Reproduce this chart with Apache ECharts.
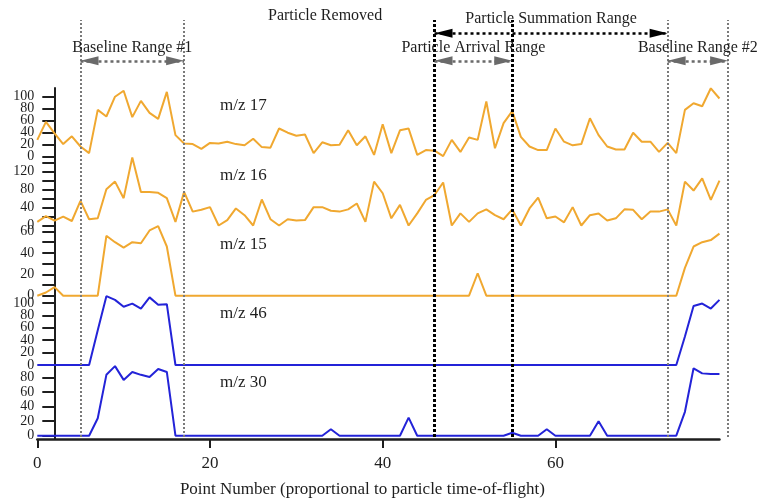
<!DOCTYPE html>
<html>
<head>
<meta charset="utf-8">
<script src="https://cdn.jsdelivr.net/npm/echarts@6/dist/echarts.min.js"></script>
<style>
  html, body { margin: 0; padding: 0; background: #ffffff; }
  #chart { width: 759px; height: 500px; }
</style>
</head>
<body>
<div id="chart"></div>
<script>
// ---- Ion signal traces, one value per point number (0 .. 79) ----
const mz17 = [28, 58, 39, 21, 34, 17, 6, 78, 67, 100,
              110, 66, 93, 73, 63, 108, 36, 22, 21, 13,
              23, 22, 25, 21, 19, 30, 16, 15, 47, 40,
              35, 37, 6, 24, 19, 20, 44, 19, 34, 3,
              54, 6, 44, 47, 3, 11, 10, 1, 28, 8,
              32, 28, 92, 14, 56, 76, 33, 17, 11, 11,
              47, 25, 19, 21, 64, 36, 17, 12, 12, 40,
              25, 25, 8, 23, 6, 78, 89, 84, 114, 97];

const mz16 = [8, 21, 11, 20, 10, 55, 14, 16, 81, 98,
              61, 152, 75, 75, 73, 61, 8, 75, 31, 35,
              41, 0, 12, 38, 23, 0, 58, 14, 0, 14,
              11, 12, 41, 41, 33, 31, 36, 49, 8, 98,
              72, 16, 46, 0, 27, 57, 68, 96, 0, 27,
              8, 27, 36, 23, 14, 36, 0, 38, 62, 16,
              20, 7, 41, 0, 23, 27, 11, 16, 36, 35,
              14, 31, 31, 36, 0, 98, 78, 105, 57, 100];

const mz15 = [0, 3, 8, 0, 0, 0, 0, 0, 56, 50,
              45, 50, 49, 61, 65, 46, 0, 0, 0, 0,
              0, 0, 0, 0, 0, 0, 0, 0, 0, 0,
              0, 0, 0, 0, 0, 0, 0, 0, 0, 0,
              0, 0, 0, 0, 0, 0, 0, 0, 0, 0,
              0, 21, 0, 0, 0, 0, 0, 0, 0, 0,
              0, 0, 0, 0, 0, 0, 0, 0, 0, 0,
              0, 0, 0, 0, 0, 26, 46, 50, 52, 58];

const mz46 = [0, 0, 0, 0, 0, 0, 0, 56, 111, 105,
              94, 99, 91, 109, 97, 98, 0, 0, 0, 0,
              0, 0, 0, 0, 0, 0, 0, 0, 0, 0,
              0, 0, 0, 0, 0, 0, 0, 0, 0, 0,
              0, 0, 0, 0, 0, 0, 0, 0, 0, 0,
              0, 0, 0, 0, 0, 0, 0, 0, 0, 0,
              0, 0, 0, 0, 0, 0, 0, 0, 0, 0,
              0, 0, 0, 0, 0, 46, 95, 99, 91, 105];

const mz30 = [0, 0, 0, 0, 0, 0, 0, 24, 84, 96,
              77, 88, 84, 81, 92, 88, 0, 0, 0, 0,
              0, 0, 0, 0, 0, 0, 0, 0, 0, 0,
              0, 0, 0, 0, 9, 0, 0, 0, 0, 0,
              0, 0, 0, 25, 0, 0, 0, 0, 0, 0,
              0, 0, 0, 0, 0, 4, 0, 0, 0, 9,
              0, 0, 0, 0, 0, 20, 0, 0, 0, 0,
              0, 0, 0, 0, 0, 33, 93, 86, 85, 85];

// ---- Tick values for each trace's intensity axis ----
const ticks17 = [0, 20, 40, 60, 80, 100];
const labels17 = [0, 20, 40, 60, 80, 100];
const ticks16 = [0, 20, 40, 60, 80, 100, 120, 140];
const labels16 = [0, 40, 80, 120];
const ticks15 = [0, 10, 20, 30, 40, 50, 60];
const labels15 = [0, 20, 40, 60];
const ticks46 = [0, 20, 40, 60, 80, 100];
const labels46 = [0, 20, 40, 60, 80, 100];
const ticks30 = [0, 20, 40, 60, 80];
const labels30 = [0, 20, 40, 60, 80];

// ---- Point-number axis ----
const xTicks = [0, 20, 40, 60];
const lastPoint = 79;

// ---- Ranges marked on the point-number axis ----
const baselineRange1 = [5, 17];
const arrivalRange = [46, 55];
const summationRange = [46, 73];
const baselineRange2 = [73, 80];

// ---- Styling / layout ----
const ORANGE = '#F0A830';
const BLUE = '#2323D8';
const INK = '#1e1e1e';
const GREY = '#7a7a7a';
const SERIF = "'Liberation Serif', 'Times New Roman', 'DejaVu Serif', serif";

const PLOT_LEFT = 37.3;
const PX_PER_POINT = 8.635;

// pixel band and visible value window of each stacked panel
const panels = [
  { name: 'm/z 17', data: mz17, color: ORANGE, top: 88,  bottom: 160, min: -5.5,  max: 114.5, ticks: ticks17, labels: labels17, labelY: 106.7 },
  { name: 'm/z 16', data: mz16, color: ORANGE, top: 160, bottom: 228, min: -5.6,  max: 146.2, ticks: ticks16, labels: labels16, labelY: 176.7 },
  { name: 'm/z 15', data: mz15, color: ORANGE, top: 228, bottom: 298, min: -2.15, max: 63.3,  ticks: ticks15, labels: labels15, labelY: 245.7 },
  { name: 'm/z 46', data: mz46, color: BLUE,   top: 298, bottom: 367, min: -3.2,  max: 108,   ticks: ticks46, labels: labels46, labelY: 315 },
  { name: 'm/z 30', data: mz30, color: BLUE,   top: 367, bottom: 439, min: -4.55, max: 94.8,  ticks: ticks30, labels: labels30, labelY: 384 }
];

const grids = [];
const xAxes = [];
const yAxes = [];
const series = [];
const texts = [];

const yLabelStyle = { margin: 20, color: INK, fontFamily: SERIF, fontSize: 14, showMinLabel: true, showMaxLabel: true, hideOverlap: false };

panels.forEach(function (p, i) {
  const isLast = i === panels.length - 1;
  grids.push({
    left: PLOT_LEFT,
    width: lastPoint * PX_PER_POINT,
    top: p.top,
    height: p.bottom - p.top
  });
  xAxes.push({
    gridIndex: i,
    type: 'value',
    min: 0,
    max: lastPoint,
    show: isLast,
    position: 'bottom',
    axisLine: { show: isLast, onZero: false, lineStyle: { color: INK, width: 2.5 } },
    axisTick: { show: isLast, customValues: xTicks, length: 9, lineStyle: { color: INK, width: 2 } },
    axisLabel: { show: isLast, customValues: xTicks, margin: 16, color: INK, fontFamily: SERIF, fontSize: 17 },
    splitLine: { show: false },
    name: isLast ? 'Point Number (proportional to particle time-of-flight)' : '',
    nameLocation: 'middle',
    nameGap: 42,
    nameTextStyle: { color: INK, fontFamily: SERIF, fontSize: 17, padding: [0, 32, 0, 0] }
  });
  // main intensity axis: line, ticks and every other label
  yAxes.push({
    gridIndex: i,
    type: 'value',
    position: 'left',
    min: p.min,
    max: p.max,
    offset: -17,
    axisLine: { show: true, onZero: false, lineStyle: { color: INK, width: 2 } },
    axisTick: { show: true, customValues: p.ticks, length: 12, lineStyle: { color: INK, width: 2 } },
    axisLabel: Object.assign({ customValues: p.labels.filter(function (v, k) { return k % 2 === 0; }) }, yLabelStyle),
    splitLine: { show: false }
  });
  series.push({
    name: p.name,
    type: 'line',
    xAxisIndex: i,
    yAxisIndex: i,
    data: p.data.map(function (v, k) { return [k, v]; }),
    showSymbol: false,
    clip: false,
    silent: true,
    lineStyle: { color: p.color, width: 2 },
    itemStyle: { color: p.color }
  });
  texts.push({
    type: 'text',
    left: 220,
    top: p.labelY - 10,
    style: { text: p.name, fill: INK, font: '17px ' + SERIF }
  });
});

// companion axes on the same panels carrying the remaining labels
panels.forEach(function (p, i) {
  yAxes.push({
    gridIndex: i,
    type: 'value',
    position: 'left',
    min: p.min,
    max: p.max,
    offset: -17,
    axisLine: { show: false },
    axisTick: { show: false },
    axisLabel: Object.assign({ customValues: p.labels.filter(function (v, k) { return k % 2 === 1; }) }, yLabelStyle),
    splitLine: { show: false }
  });
});

// Overlay panel holding the range markers; spans the whole stack and runs to point 80
const OV = panels.length;
const OVY = yAxes.length;
grids.push({ left: PLOT_LEFT, width: 80 * PX_PER_POINT, top: 20, bottom: 63 });
xAxes.push({ gridIndex: OV, type: 'value', min: 0, max: 80, show: false });
yAxes.push({ gridIndex: OV, type: 'value', min: 0, max: 1, show: false });

// rows (fraction of overlay height) for the range arrows
const ROW_SUM = 0.968;
const ROW_RANGE = 0.902;

function verticalLine(x, color, width, dash) {
  return { xAxis: x, lineStyle: { color: color, width: width, type: dash } };
}

series.push({
  type: 'line', xAxisIndex: OV, yAxisIndex: OVY, data: [], silent: true,
  markLine: {
    silent: true,
    symbol: ['none', 'none'],
    label: { show: false },
    animation: false,
    data: [
      verticalLine(baselineRange1[0], GREY, 2, [2, 2]),
      verticalLine(baselineRange1[1], GREY, 2, [2, 2]),
      verticalLine(baselineRange2[0], GREY, 2, [2, 2]),
      verticalLine(baselineRange2[1], GREY, 2, [2, 2]),
      verticalLine(arrivalRange[0], '#000000', 3, [3, 2]),
      verticalLine(arrivalRange[1], '#000000', 3, [3, 2])
    ]
  }
});

// arrowhead: a triangle whose tip sits on the range boundary
function arrowEnd(x, row, name) {
  const end = { coord: [x, row], symbol: 'triangle', symbolSize: [9, 18], symbolOffset: [0, 9] };
  if (name) end.name = name;
  return end;
}

function rangeArrow(range, row, name, color, labelDistance) {
  return {
    type: 'line', xAxisIndex: OV, yAxisIndex: OVY, data: [], silent: true,
    markLine: {
      silent: true,
      animation: false,
      symbol: ['triangle', 'triangle'],
      itemStyle: { color: color },
      lineStyle: { color: color, width: 2.5, type: [3, 3] },
      label: {
        show: true, position: 'insideMiddleTop', distance: labelDistance,
        formatter: '{b}', color: INK, fontFamily: SERIF, fontSize: 16
      },
      data: [[arrowEnd(range[0], row, name), arrowEnd(range[1], row)]]
    }
  };
}

series.push(rangeArrow(summationRange, ROW_SUM, 'Particle Summation Range', '#000000', 7));
series.push(rangeArrow(baselineRange1, ROW_RANGE, 'Baseline Range #1', '#6a6a6a', 5));
series.push(rangeArrow(arrivalRange, ROW_RANGE, 'Particle Arrival Range', '#6a6a6a', 5));
series.push(rangeArrow(baselineRange2, ROW_RANGE, 'Baseline Range #2', '#6a6a6a', 5));

texts.push({
  type: 'text',
  left: 268,
  top: 8,
  style: { text: 'Particle Removed', fill: INK, font: '16px ' + SERIF }
});

const chart = echarts.init(document.getElementById('chart'), null, { renderer: 'canvas' });
chart.setOption({
  animation: false,
  backgroundColor: '#ffffff',
  grid: grids,
  xAxis: xAxes,
  yAxis: yAxes,
  series: series,
  graphic: texts
});
</script>
</body>
</html>
